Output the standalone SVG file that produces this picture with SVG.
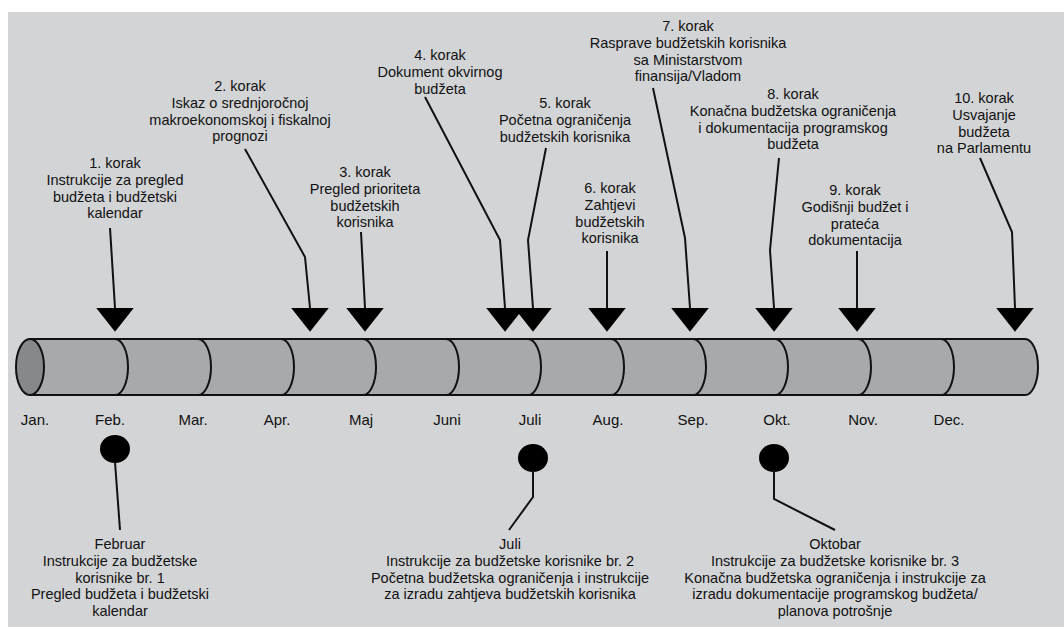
<svg xmlns="http://www.w3.org/2000/svg" width="1064" height="627" viewBox="0 0 1064 627">
<style>
text{font-family:"Liberation Sans",Arial,sans-serif;fill:#111;text-anchor:middle}
.st{font-size:14.5px}
.mo{font-size:15px}
.ln{fill:none;stroke:#111;stroke-width:2}
.dv{fill:none;stroke:#111;stroke-width:2}
.dot{fill:#000}
</style>
<defs>
<marker id="ah" markerUnits="userSpaceOnUse" markerWidth="40" markerHeight="40" refX="0" refY="0" viewBox="-1 -16 21 32" orient="90" overflow="visible">
<path d="M0,-15 L19,0 L0,15 Z" fill="#000"/>
</marker>
</defs>
<rect x="8" y="12" width="1056" height="615" fill="#d3d4d6"/>
<g id="timeline">
<path d="M30,339 H1025 A13,28 0 0 1 1025,395 H30 Z" fill="#a8a9ac" stroke="#111" stroke-width="2"/>
<ellipse cx="30" cy="367" rx="14" ry="28" fill="#87888b" stroke="#111" stroke-width="2"/>
<path class="dv" d="M115,339 A13,28 0 0 1 115,395 M198,339 A13,28 0 0 1 198,395 M281,339 A13,28 0 0 1 281,395 M363,339 A13,28 0 0 1 363,395 M446,339 A13,28 0 0 1 446,395 M528,339 A13,28 0 0 1 528,395 M611,339 A13,28 0 0 1 611,395 M693,339 A13,28 0 0 1 693,395 M775,339 A13,28 0 0 1 775,395 M858,339 A13,28 0 0 1 858,395 M941,339 A13,28 0 0 1 941,395"/>
<g class="mo">
<text x="35" y="425">Jan.</text>
<text x="110" y="425">Feb.</text>
<text x="193" y="425">Mar.</text>
<text x="277" y="425">Apr.</text>
<text x="361" y="425">Maj</text>
<text x="447" y="425">Juni</text>
<text x="530" y="425">Juli</text>
<text x="608" y="425">Aug.</text>
<text x="693" y="425">Sep.</text>
<text x="777" y="425">Okt.</text>
<text x="863" y="425">Nov.</text>
<text x="949" y="425">Dec.</text>
</g>
</g>
<g id="step1" class="st"><text x="115" y="168">1. korak</text><text x="115" y="185">Instrukcije za pregled</text><text x="115" y="201.5">budžeta i budžetski</text><text x="115" y="218">kalendar</text></g>
<g id="step2" class="st"><text x="240" y="91">2. korak</text><text x="240" y="108">Iskaz o srednjoročnoj</text><text x="240" y="124.5">makroekonomskoj i fiskalnoj</text><text x="240" y="141">prognozi</text></g>
<g id="step3" class="st"><text x="365" y="177">3. korak</text><text x="365" y="194">Pregled prioriteta</text><text x="365" y="210.5">budžetskih</text><text x="365" y="227">korisnika</text></g>
<g id="step4" class="st"><text x="440" y="60">4. korak</text><text x="440" y="77">Dokument okvirnog</text><text x="440" y="93.5">budžeta</text></g>
<g id="step5" class="st"><text x="565" y="108">5. korak</text><text x="565" y="125">Početna ograničenja</text><text x="565" y="141.5">budžetskih korisnika</text></g>
<g id="step6" class="st"><text x="610" y="193">6. korak</text><text x="610" y="210">Zahtjevi</text><text x="610" y="226.5">budžetskih</text><text x="610" y="243">korisnika</text></g>
<g id="step7" class="st"><text x="688" y="31">7. korak</text><text x="688" y="48">Rasprave budžetskih korisnika</text><text x="688" y="64.5">sa Ministarstvom</text><text x="688" y="81">finansija/Vladom</text></g>
<g id="step8" class="st"><text x="793" y="99">8. korak</text><text x="793" y="116">Konačna budžetska ograničenja</text><text x="793" y="132.5">i dokumentacija programskog</text><text x="793" y="149">budžeta</text></g>
<g id="step9" class="st"><text x="855" y="195">9. korak</text><text x="855" y="212">Godišnji budžet i</text><text x="855" y="228.5">prateća</text><text x="855" y="245">dokumentacija</text></g>
<g id="step10" class="st"><text x="984" y="103">10. korak</text><text x="984" y="120">Usvajanje</text><text x="984" y="136.5">budžeta</text><text x="984" y="153">na Parlamentu</text></g>
<g id="note-feb" class="st"><ellipse class="dot" cx="115" cy="449" rx="15" ry="14"/><text x="120" y="549">Februar</text><text x="120" y="566">Instrukcije za budžetske</text><text x="120" y="582.5">korisnike br. 1</text><text x="120" y="599">Pregled budžeta i budžetski</text><text x="120" y="615.5">kalendar</text></g>
<g id="note-jul" class="st"><ellipse class="dot" cx="533" cy="458" rx="15" ry="14"/><text x="510" y="549">Juli</text><text x="510" y="566">Instrukcije za budžetske korisnike br. 2</text><text x="510" y="582.5">Početna budžetska ograničenja i instrukcije</text><text x="510" y="599">za izradu zahtjeva budžetskih korisnika</text></g>
<g id="note-okt" class="st"><ellipse class="dot" cx="774" cy="458" rx="15" ry="14"/><text x="835" y="549">Oktobar</text><text x="835" y="566">Instrukcije za budžetske korisnike br. 3</text><text x="835" y="582.5">Konačna budžetska ograničenja i instrukcije za</text><text x="835" y="599">izradu dokumentacije programskog budžeta/</text><text x="835" y="615.5">planova potrošnje</text></g>
<g id="connectors">
<path class="ln" marker-end="url(#ah)" d="M110,228 L115,308"/>
<path class="ln" marker-end="url(#ah)" d="M245,149 L305,257 L310,308"/>
<path class="ln" marker-end="url(#ah)" d="M361,232 L365,308"/>
<path class="ln" marker-end="url(#ah)" d="M425,97 L500,240 L505,308"/>
<path class="ln" marker-end="url(#ah)" d="M546,148 L528,240 L533,308"/>
<path class="ln" marker-end="url(#ah)" d="M607,251 L607,308"/>
<path class="ln" marker-end="url(#ah)" d="M653,88 L685,238 L690,308"/>
<path class="ln" marker-end="url(#ah)" d="M779,158 L770,250 L774,308"/>
<path class="ln" marker-end="url(#ah)" d="M857,251 L857,308"/>
<path class="ln" marker-end="url(#ah)" d="M980,158 L1012,232 L1015,308"/>
<path class="ln" d="M115,462 L120,530"/>
<path class="ln" d="M533,470 L533,497 L509,530"/>
<path class="ln" d="M774,470 L774,499 L835,530"/>
</g>
</svg>
